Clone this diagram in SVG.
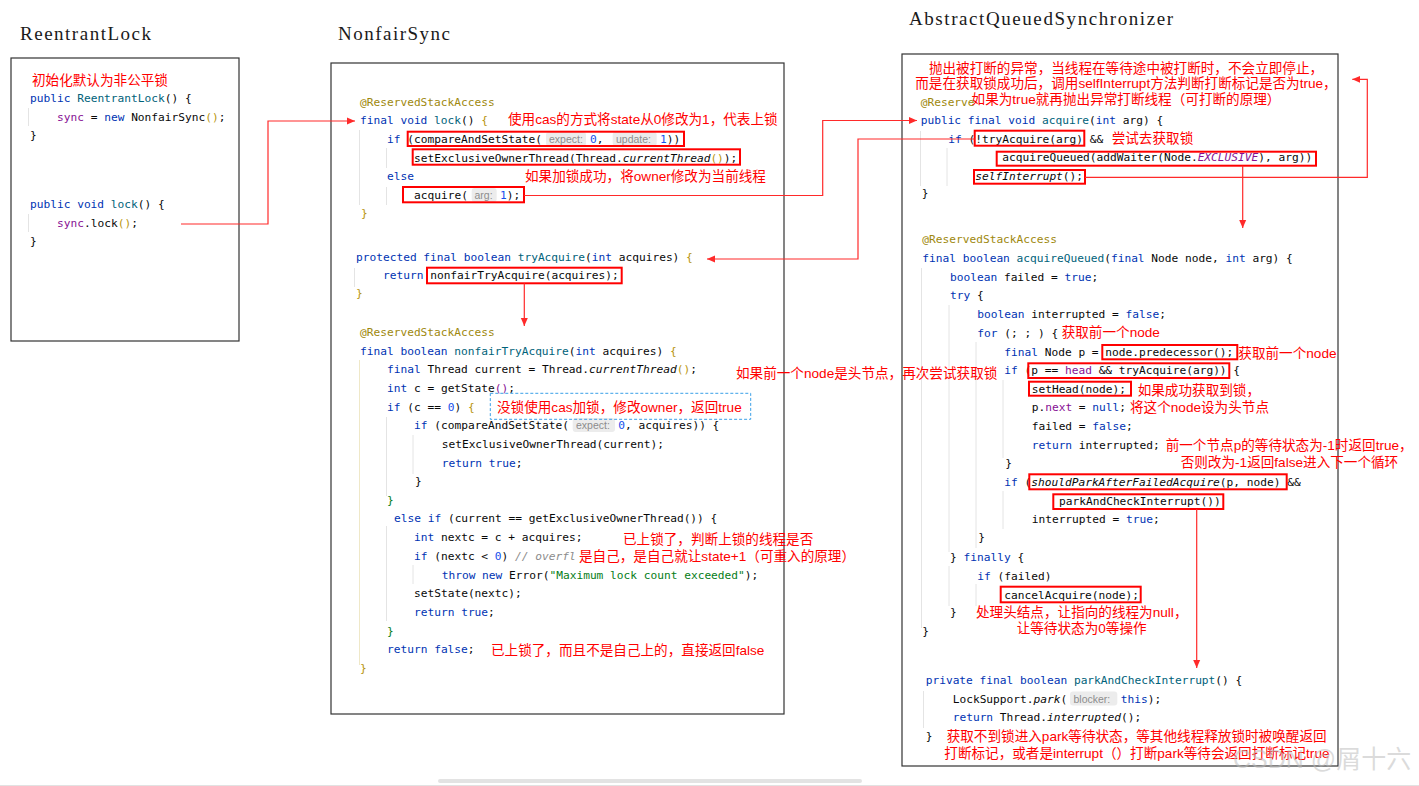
<svg xmlns="http://www.w3.org/2000/svg" width="1419" height="786" viewBox="0 0 1419 786">
<defs>
<style>
.t{font-family:"Liberation Serif","DejaVu Serif",serif;font-size:19px;fill:#1a1a1a}
.c{font-family:"DejaVu Sans Mono","Liberation Mono",monospace;font-size:11.2px;fill:#080808}
.k{fill:#0033b3}
.m{fill:#00627a}
.f{fill:#871094}
.n{fill:#1750eb}
.a{fill:#9e880d}
.s{fill:#067d17}
.cm{fill:#8c8c8c;font-style:italic}
.i{font-style:italic}
.g{fill:#b8940c}
.r{font-family:"Liberation Sans","Noto Sans CJK SC",sans-serif;font-size:13.6px;fill:#ff0000}
.h{font-family:"Liberation Sans",sans-serif;font-size:10.5px;fill:#8c8c8c}
.hb{fill:#ececec}
.box{fill:#ffffff;stroke:#333333;stroke-width:1.2}
.rb{fill:none;stroke:#ff0000;stroke-width:2}
.ig{stroke:#e4e4e4;stroke-width:1}
.iy{stroke:#efe8c8;stroke-width:1}
.ln{fill:none;stroke:#ff2a2a;stroke-width:1.2}
.db{fill:none;stroke:#3aa0e8;stroke-width:1;stroke-dasharray:3 2}
</style>
<marker id="ah" viewBox="0 0 8 8" refX="8" refY="4" markerWidth="8" markerHeight="8" markerUnits="userSpaceOnUse" orient="auto"><path d="M0,0.5 L8,4 L0,7.5 z" fill="#ff2a2a"/></marker>
</defs>
<rect width="1419" height="786" fill="#ffffff"/>

<g id="titles">
<text class="t" x="20" y="40" textLength="131" lengthAdjust="spacing">ReentrantLock</text>
<text class="t" x="338" y="40" textLength="112" lengthAdjust="spacing">NonfairSync</text>
<text class="t" x="909" y="25" textLength="264" lengthAdjust="spacing">AbstractQueuedSynchronizer</text>
</g>

<g id="reentrantlock">
<rect class="box" x="11" y="58" width="228" height="283"/>
<line class="ig" x1="28.5" y1="108" x2="28.5" y2="126"/>
<line class="ig" x1="28.5" y1="214" x2="28.5" y2="232"/>
<text class="r" x="32" y="85">初始化默认为非公平锁</text>
<text class="c" x="30" y="102"><tspan class="k">public</tspan> <tspan class="m">ReentrantLock</tspan>() {</text>
<text class="c" x="57" y="121"><tspan class="f">sync</tspan> = <tspan class="k">new</tspan> NonfairSync<tspan class="g">()</tspan>;</text>
<text class="c" x="30" y="139">}</text>
<text class="c" x="30" y="208"><tspan class="k">public void</tspan> <tspan class="m">lock</tspan>() {</text>
<text class="c" x="57" y="227"><tspan class="f">sync</tspan>.lock<tspan class="g">()</tspan>;</text>
<text class="c" x="30" y="245">}</text>
</g>

<g id="nonfairsync">
<rect class="box" x="331" y="63" width="453" height="651"/>
<line class="ig" x1="359.5" y1="130" x2="359.5" y2="205"/>
<line class="ig" x1="386.5" y1="148" x2="386.5" y2="168"/>
<line class="ig" x1="386.5" y1="187" x2="386.5" y2="205"/>
<line class="ig" x1="354.5" y1="268" x2="354.5" y2="287"/>
<line class="iy" x1="359.5" y1="360" x2="359.5" y2="665"/>
<line class="ig" x1="386.5" y1="417" x2="386.5" y2="496"/>
<line class="ig" x1="413" y1="435" x2="413" y2="474"/>
<line class="ig" x1="386.5" y1="526" x2="386.5" y2="621"/>
<line class="ig" x1="413" y1="565" x2="413" y2="584"/>

<text class="c" x="360" y="105.5"><tspan class="a">@ReservedStackAccess</tspan></text>
<text class="c" x="360" y="124"><tspan class="k">final void</tspan> <tspan class="m">lock</tspan>() <tspan class="g">{</tspan></text>
<text class="c" x="387" y="143"><tspan class="k">if</tspan> (compareAndSetState(</text>
<rect class="hb" x="546" y="132" width="40" height="14" rx="3"/>
<text class="h" x="549" y="143">expect:</text>
<text class="c" x="590" y="143"><tspan class="n">0</tspan>,</text>
<rect class="hb" x="612.7" y="132" width="44" height="14" rx="3"/>
<text class="h" x="616" y="143">update:</text>
<text class="c" x="660" y="143"><tspan class="n">1</tspan>))</text>
<text class="c" x="414" y="161.5">setExclusiveOwnerThread(Thread.<tspan class="i">currentThread</tspan><tspan class="g">()</tspan>);</text>
<text class="c" x="387" y="180"><tspan class="k">else</tspan></text>
<text class="c" x="414" y="199">acquire(</text>
<rect class="hb" x="471.7" y="188" width="25" height="14" rx="3"/>
<text class="h" x="474.5" y="199">arg:</text>
<text class="c" x="500" y="199"><tspan class="n">1</tspan>);</text>
<text class="c" x="361" y="217"><tspan class="g">}</tspan></text>
<text class="c" x="356" y="260.5"><tspan class="k">protected final boolean</tspan> <tspan class="m">tryAcquire</tspan>(<tspan class="k">int</tspan> acquires) <tspan class="g">{</tspan></text>
<text class="c" x="383" y="279"><tspan class="k">return</tspan> nonfairTryAcquire(acquires);</text>
<text class="c" x="356" y="296.5"><tspan class="g">}</tspan></text>

<rect class="rb" x="407.7" y="131.7" width="276.3" height="14.3"/>
<rect class="rb" x="412.7" y="149.3" width="327.3" height="15.4"/>
<rect class="rb" x="403" y="187" width="121" height="15.3"/>
<rect class="rb" x="427" y="267.7" width="194.7" height="15.6"/>

<text class="r" x="508" y="124">使用cas的方式将state从0修改为1，代表上锁</text>
<text class="r" x="525" y="180.5">如果加锁成功，将owner修改为当前线程</text>

<text class="c" x="360" y="335.5"><tspan class="a">@ReservedStackAccess</tspan></text>
<text class="c" x="360" y="354.5"><tspan class="k">final boolean</tspan> <tspan class="m">nonfairTryAcquire</tspan>(<tspan class="k">int</tspan> acquires) <tspan class="g">{</tspan></text>
<text class="c" x="387" y="373"><tspan class="k">final</tspan> Thread current = Thread.<tspan class="i">currentThread</tspan><tspan class="g">()</tspan>;</text>
<text class="c" x="387" y="392"><tspan class="k">int</tspan> c = getState<tspan class="f">()</tspan>;</text>
<text class="c" x="387" y="410.5"><tspan class="k">if</tspan> (c == <tspan class="n">0</tspan>) <tspan class="g">{</tspan></text>
<text class="c" x="414" y="429"><tspan class="k">if</tspan> (compareAndSetState(</text>
<rect class="hb" x="572.7" y="418" width="42.3" height="14" rx="3"/>
<text class="h" x="576" y="429">expect:</text>
<text class="c" x="618.3" y="429"><tspan class="n">0</tspan>, acquires)) {</text>
<text class="c" x="441.7" y="448">setExclusiveOwnerThread(current);</text>
<text class="c" x="441.7" y="466.5"><tspan class="k">return true</tspan>;</text>
<text class="c" x="415" y="485">}</text>
<text class="c" x="387" y="504"><tspan class="s">}</tspan></text>
<text class="c" x="394" y="522"><tspan class="k">else if</tspan> (current == getExclusiveOwnerThread()) {</text>
<text class="c" x="414" y="541"><tspan class="k">int</tspan> nextc = c + acquires;</text>
<text class="c" x="414" y="560"><tspan class="k">if</tspan> (nextc &lt; <tspan class="n">0</tspan>) <tspan class="cm">// overfl</tspan></text>
<text class="c" x="441.7" y="578.5"><tspan class="k">throw new</tspan> Error(<tspan class="s">"Maximum lock count exceeded"</tspan>);</text>
<text class="c" x="414" y="597">setState(nextc);</text>
<text class="c" x="414" y="616"><tspan class="k">return true</tspan>;</text>
<text class="c" x="387" y="634.5"><tspan class="s">}</tspan></text>
<text class="c" x="387" y="653"><tspan class="k">return false</tspan>;</text>
<text class="c" x="360" y="672"><tspan class="g">}</tspan></text>

<rect class="db" x="490.3" y="393.3" width="260.4" height="26"/>
<text class="r" x="497" y="411.5">没锁使用cas加锁，修改owner，返回true</text>
<text class="r" x="623" y="544">已上锁了，判断上锁的线程是否</text>
<text class="r" x="579" y="561">是自己，是自己就让state+1（可重入的原理）</text>
<text class="r" x="491" y="655">已上锁了，而且不是自己上的，直接返回false</text>
</g>

<g id="aqs">
<rect class="box" x="902" y="54" width="436" height="712"/>
<line class="ig" x1="920.5" y1="131" x2="920.5" y2="186"/>
<line class="ig" x1="947" y1="148" x2="947" y2="186"/>
<line class="ig" x1="921.5" y1="268" x2="921.5" y2="628"/>
<line class="ig" x1="949" y1="305" x2="949" y2="552"/>
<line class="ig" x1="976" y1="342" x2="976" y2="548"/>
<line class="ig" x1="1003" y1="380" x2="1003" y2="458"/>
<line class="ig" x1="1003" y1="491" x2="1003" y2="529"/>
<line class="ig" x1="949" y1="566" x2="949" y2="606"/>
<line class="ig" x1="976" y1="584" x2="976" y2="606"/>
<line class="ig" x1="923.5" y1="691" x2="923.5" y2="728"/>

<text class="r" x="1126" y="73" text-anchor="middle">抛出被打断的异常，当线程在等待途中被打断时，不会立即停止，</text>
<text class="r" x="1126" y="88" text-anchor="middle">而是在获取锁成功后，调用selfInterrupt方法判断打断标记是否为true，</text>
<text class="r" x="1126" y="104" text-anchor="middle">如果为true就再抛出异常打断线程（可打断的原理）</text>

<text class="c" x="920.7" y="105.5"><tspan class="a">@Reserve</tspan></text>
<text class="c" x="920.7" y="124"><tspan class="k">public final void</tspan> <tspan class="m">acquire</tspan>(<tspan class="k">int</tspan> arg) {</text>
<text class="c" x="948.3" y="142.5"><tspan class="k">if</tspan> (!tryAcquire(arg) &amp;&amp;</text>
<text class="c" x="1002.3" y="161">acquireQueued(addWaiter(Node.<tspan class="f i">EXCLUSIVE</tspan>), arg))</text>
<text class="c" x="975.3" y="180"><tspan class="i">selfInterrupt</tspan>();</text>
<text class="c" x="921.7" y="197">}</text>
<rect class="rb" x="974.7" y="130.7" width="109.6" height="15"/>
<rect class="rb" x="996.7" y="151.7" width="319.3" height="14"/>
<rect class="rb" x="974" y="170" width="111" height="13.7"/>
<text class="r" x="1111.7" y="142.5">尝试去获取锁</text>

<text class="c" x="922.3" y="243"><tspan class="a">@ReservedStackAccess</tspan></text>
<text class="c" x="922.3" y="261.5"><tspan class="k">final boolean</tspan> <tspan class="m">acquireQueued</tspan>(<tspan class="k">final</tspan> Node node, <tspan class="k">int</tspan> arg) {</text>
<text class="c" x="950" y="280.5"><tspan class="k">boolean</tspan> failed = <tspan class="k">true</tspan>;</text>
<text class="c" x="950" y="299"><tspan class="k">try</tspan> {</text>
<text class="c" x="977.3" y="318"><tspan class="k">boolean</tspan> interrupted = <tspan class="k">false</tspan>;</text>
<text class="c" x="977.3" y="336.5"><tspan class="k">for</tspan> (; ; ) {</text>
<text class="c" x="1004.3" y="355.5"><tspan class="k">final</tspan> Node p = node.predecessor();</text>
<text class="c" x="1004.3" y="374"><tspan class="k">if</tspan> (p == <tspan class="f">head</tspan> &amp;&amp; tryAcquire(arg)) {</text>
<text class="c" x="1031.7" y="392.5">setHead(node);</text>
<text class="c" x="1031.7" y="411">p.<tspan class="f">next</tspan> = <tspan class="k">null</tspan>;</text>
<text class="c" x="1031.7" y="430">failed = <tspan class="k">false</tspan>;</text>
<text class="c" x="1031.7" y="448.5"><tspan class="k">return</tspan> interrupted;</text>
<text class="c" x="1005.3" y="466.5">}</text>
<text class="c" x="1004.3" y="486"><tspan class="k">if</tspan> (<tspan class="i">shouldParkAfterFailedAcquire</tspan>(p, node) &amp;&amp;</text>
<text class="c" x="1059" y="504.5">parkAndCheckInterrupt())</text>
<text class="c" x="1031.7" y="523">interrupted = <tspan class="k">true</tspan>;</text>
<text class="c" x="978.3" y="540.5">}</text>
<text class="c" x="950" y="560.5">} <tspan class="k">finally</tspan> {</text>
<text class="c" x="977.3" y="579.5"><tspan class="k">if</tspan> (failed)</text>
<text class="c" x="1004.3" y="598.5">cancelAcquire(node);</text>
<text class="c" x="950" y="615.5">}</text>
<text class="c" x="922.3" y="634.5">}</text>

<rect class="rb" x="1102.3" y="345" width="135" height="14.3"/>
<rect class="rb" x="1028.3" y="363.3" width="201" height="14.7"/>
<rect class="rb" x="1029" y="381.7" width="102" height="14"/>
<rect class="rb" x="1029.3" y="474.3" width="257.4" height="15"/>
<rect class="rb" x="1053.3" y="494.3" width="170" height="14.7"/>
<rect class="rb" x="1000.7" y="586.7" width="140" height="15.6"/>

<text class="r" x="1061.7" y="336.5">获取前一个node</text>
<text class="r" x="1238.3" y="358">获取前一个node</text>
<text class="r" x="736" y="377.5">如果前一个node是头节点，再次尝试获取锁</text>
<text class="r" x="1137.7" y="395">如果成功获取到锁，</text>
<text class="r" x="1130" y="412">将这个node设为头节点</text>
<text class="r" x="1165.7" y="450">前一个节点p的等待状态为-1时返回true，</text>
<text class="r" x="1180.7" y="466.5">否则改为-1返回false进入下一个循环</text>
<text class="r" x="976" y="616.5">处理头结点，让指向的线程为null，</text>
<text class="r" x="1016.7" y="633">让等待状态为0等操作</text>

<text class="c" x="925.7" y="684"><tspan class="k">private final boolean</tspan> <tspan class="m">parkAndCheckInterrupt</tspan>() {</text>
<text class="c" x="952.7" y="702.5">LockSupport.<tspan class="i">park</tspan>(</text>
<rect class="hb" x="1070" y="691.5" width="47.3" height="14" rx="3"/>
<text class="h" x="1073.5" y="702.5">blocker:</text>
<text class="c" x="1120.7" y="702.5"><tspan class="k">this</tspan>);</text>
<text class="c" x="952.7" y="721"><tspan class="k">return</tspan> Thread.<tspan class="i">interrupted</tspan>();</text>
<text class="c" x="925.7" y="740">}</text>
<text class="r" x="946.7" y="741">获取不到锁进入park等待状态，等其他线程释放锁时被唤醒返回</text>
<text class="r" x="944.3" y="758">打断标记，或者是interrupt（）打断park等待会返回打断标记true</text>
</g>

<g id="connectors">
<path class="ln" d="M181,224 H268 V121 H355" marker-end="url(#ah)"/>
<path class="ln" d="M524,195.5 H822.7 V120.5 H917" marker-end="url(#ah)"/>
<path class="ln" d="M974.7,139 H858 V259 H707" marker-end="url(#ah)"/>
<path class="ln" d="M524.3,283.3 V326" marker-end="url(#ah)"/>
<path class="ln" d="M1242.7,165.7 V228" marker-end="url(#ah)"/>
<path class="ln" d="M1085,177.3 H1367.3 V79.3 H1352.3" marker-end="url(#ah)"/>
<path class="ln" d="M1196.7,509 V668" marker-end="url(#ah)"/>
</g>

<g id="page-decor">
<rect x="438" y="779" width="424" height="4" rx="2" fill="#e3e3e3"/>
<line x1="0" y1="785.5" x2="1419" y2="785.5" stroke="#e2e2e2" stroke-width="1"/>
<text x="1233" y="768" font-family="Liberation Sans, Noto Sans CJK SC, sans-serif" font-size="25" fill="#bdbdbd" fill-opacity="0.55">CSDN @屑十六</text>
</g>
</svg>
